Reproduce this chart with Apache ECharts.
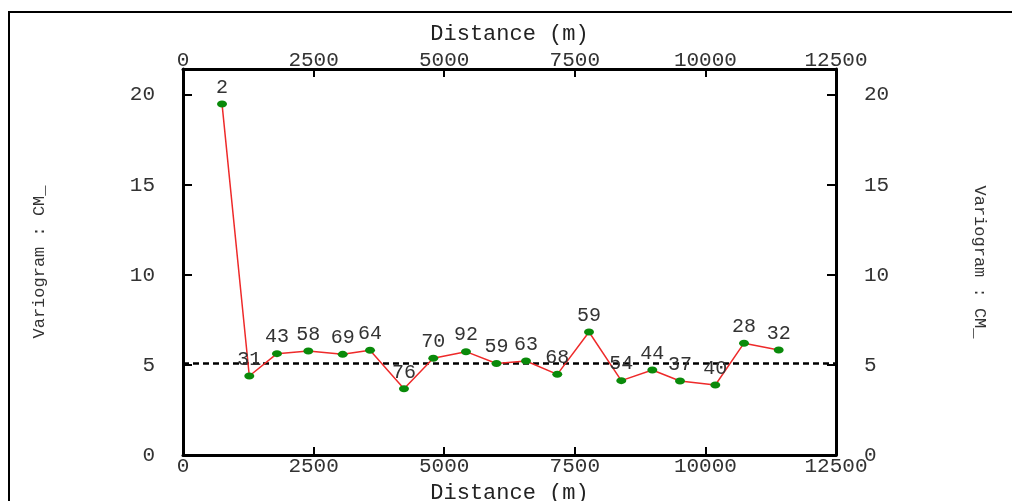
<!DOCTYPE html>
<html>
<head>
<meta charset="utf-8">
<script src="https://cdn.jsdelivr.net/npm/echarts@6/dist/echarts.min.js"></script>
<style>html,body{margin:0;padding:0;background:#fff}#c{width:1012px;height:501px}</style>
</head>
<body>
<div id="c"></div>
<script>
const lagDistance = [747, 1269, 1799, 2399, 3057, 3580, 4230, 4791, 5417, 6001, 6566, 7165, 7772, 8390, 8984, 9514, 10190, 10739, 11403];
const gammaValues = [19.5, 4.39, 5.63, 5.78, 5.59, 5.82, 3.68, 5.37, 5.74, 5.08, 5.22, 4.48, 6.83, 4.13, 4.72, 4.11, 3.89, 6.21, 5.83];
const pairCounts = [2, 31, 43, 58, 69, 64, 76, 70, 92, 59, 63, 68, 59, 54, 44, 37, 40, 28, 32];
const sillValue = 5.1;
const xAxisName = 'Distance (m)';
const yAxisName = 'Variogram : CM_';

const FONT = '"Liberation Mono", "Courier New", monospace';
const points = lagDistance.map((d, i) => [d, gammaValues[i], pairCounts[i]]);
const plain = v => String(v);

const xAxisCommon = {
  type: 'value', min: 0, max: 12500, interval: 2500,
  name: xAxisName, nameLocation: 'middle', nameGap: 27,
  nameTextStyle: { fontFamily: FONT, fontSize: 22, color: '#222' },
  axisLine: { show: true, onZero: false, lineStyle: { color: '#000', width: 3 } },
  axisTick: { show: true, inside: true, length: 8, lineStyle: { color: '#000', width: 2 } },
  axisLabel: { fontFamily: FONT, fontSize: 21, color: '#333', margin: 1, formatter: plain },
  splitLine: { show: false }
};
const yAxisCommon = {
  type: 'value', min: 0, max: 21.44, interval: 5,
  name: yAxisName, nameLocation: 'middle', nameGap: 135,
  nameTextStyle: { fontFamily: FONT, fontSize: 17, color: '#333' },
  axisLine: { show: true, onZero: false, lineStyle: { color: '#000', width: 3 } },
  axisTick: { show: true, inside: true, length: 9, lineStyle: { color: '#000', width: 2 } },
  axisLabel: { fontFamily: FONT, fontSize: 21, color: '#333', margin: 28, showMaxLabel: false, formatter: plain },
  splitLine: { show: false }
};

const chart = echarts.init(document.getElementById('c'), null, { renderer: 'canvas' });
chart.setOption({
  animation: false,
  backgroundColor: '#fff',
  grid: { left: 183, top: 69, right: 176, bottom: 46, containLabel: false, outerBoundsMode: 'none' },
  graphic: [{
    type: 'rect', z: 100, silent: true,
    shape: { x: 9, y: 12, width: 1020, height: 520 },
    style: { fill: 'none', stroke: '#000', lineWidth: 2 }
  }],
  xAxis: [
    Object.assign({}, xAxisCommon, { position: 'bottom', nameGap: 25 }),
    Object.assign({}, xAxisCommon, { position: 'top', nameGap: 22,
      axisLabel: Object.assign({}, xAxisCommon.axisLabel, { margin: -2 }) })
  ],
  yAxis: [
    Object.assign({}, yAxisCommon, { position: 'left', nameRotate: 90 }),
    Object.assign({}, yAxisCommon, { position: 'right', nameRotate: -90 })
  ],
  series: [{
    type: 'line',
    xAxisIndex: 0, yAxisIndex: 0,
    data: points,
    symbol: 'circle',
    symbolSize: [10, 7],
    itemStyle: { color: '#0a8a0a' },
    lineStyle: { color: '#ee2a2a', width: 1.5 },
    label: {
      show: true, position: 'top', distance: 3,
      fontFamily: FONT, fontSize: 20, color: '#333',
      formatter: p => String(p.value[2])
    },
    markLine: {
      silent: true, symbol: 'none',
      label: { show: false },
      lineStyle: { color: '#000', width: 2.5, type: [6, 4] },
      data: [{ yAxis: sillValue }]
    },
    z: 5
  }]
});
</script>
</body>
</html>
